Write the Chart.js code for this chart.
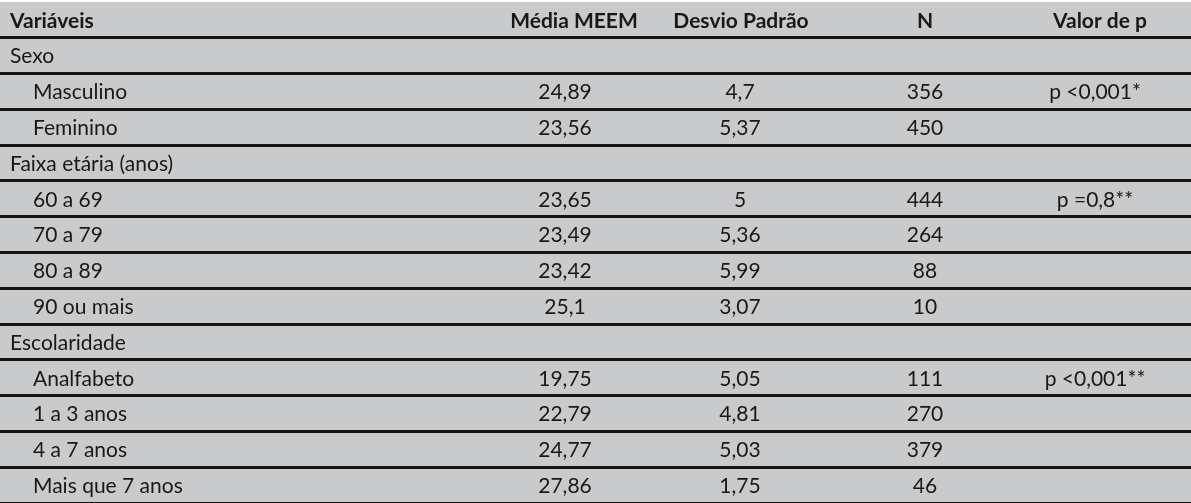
<!DOCTYPE html>
<html><head><meta charset="utf-8">
<script src="https://cdn.jsdelivr.net/npm/chart.js@4"></script>
<style>html,body{margin:0;padding:0;background:#fff}#w{position:absolute;left:0;top:2px;width:1191px;height:501px;background:#c9cacb}</style>
</head><body><div id="w"><canvas id="c"></canvas></div>
<script>
const headers = ['Variáveis','Média MEEM','Desvio Padrão','N','Valor de p'];
const rowLabels = ['Sexo','Masculino','Feminino','Faixa etária (anos)','60 a 69','70 a 79','80 a 89','90 ou mais','Escolaridade','Analfabeto','1 a 3 anos','4 a 7 anos','Mais que 7 anos'];
const isGroup = [true,false,false,true,false,false,false,false,true,false,false,false,false];
const mediaMEEM = ['','24,89','23,56','','23,65','23,49','23,42','25,1','','19,75','22,79','24,77','27,86'];
const desvioPadrao = ['','4,7','5,37','','5','5,36','5,99','3,07','','5,05','4,81','5,03','1,75'];
const nValues = ['','356','450','','444','264','88','10','','111','270','379','46'];
const pValues = ['','p <0,001*','','','p =0,8**','','','','','p <0,001**','','',''];

const colX = [null,565,740,925,1095];
const hdrX = [10,574,741,925,1100];
const cats = ['__header', ...rowLabels];

const tablePlugin = {
  id:'table',
  afterDraw(chart){
    const ctx = chart.ctx, y = chart.scales.y;
    ctx.save();
    ctx.textBaseline='middle';
    ctx.fillStyle='#1a1718';
    ctx.font='bold 21px Lato';
    headers.forEach((h,i)=>{
      ctx.textAlign = i===0?'left':'center';
      ctx.fillText(h,hdrX[i],y.getPixelForValue(0)+1);
    });
    ctx.font='21px Lato';
    const cols=[mediaMEEM,desvioPadrao,nValues,pValues];
    rowLabels.forEach((r,k)=>{
      const py=y.getPixelForValue(k+1)+1;
      ctx.textAlign='left';
      ctx.fillText(r,isGroup[k]?10:33,py);
      cols.forEach((col,j)=>{
        if(col[k]){ctx.textAlign='center';ctx.fillText(col[k],colX[j+1],py);}
      });
    });
    ctx.restore();
  }
};

new Chart(document.getElementById('c'),{
  type:'bar',
  data:{labels:cats,datasets:[{data:cats.map(()=>0),backgroundColor:'rgba(0,0,0,0)'}]},
  options:{
    indexAxis:'y',responsive:true,maintainAspectRatio:false,animation:false,
    layout:{padding:0},
    plugins:{legend:{display:false},tooltip:{enabled:false}},
    scales:{
      x:{display:false,min:0,max:1},
      y:{display:true,offset:true,
         grid:{offset:true,lineWidth:3,drawTicks:false,
           color:c=>(c.index===0||c.index===cats.length)?'rgba(0,0,0,0)':'#141414'},
         border:{display:false},ticks:{display:false}}
    }
  },
  plugins:[tablePlugin]
});
</script></body></html>
